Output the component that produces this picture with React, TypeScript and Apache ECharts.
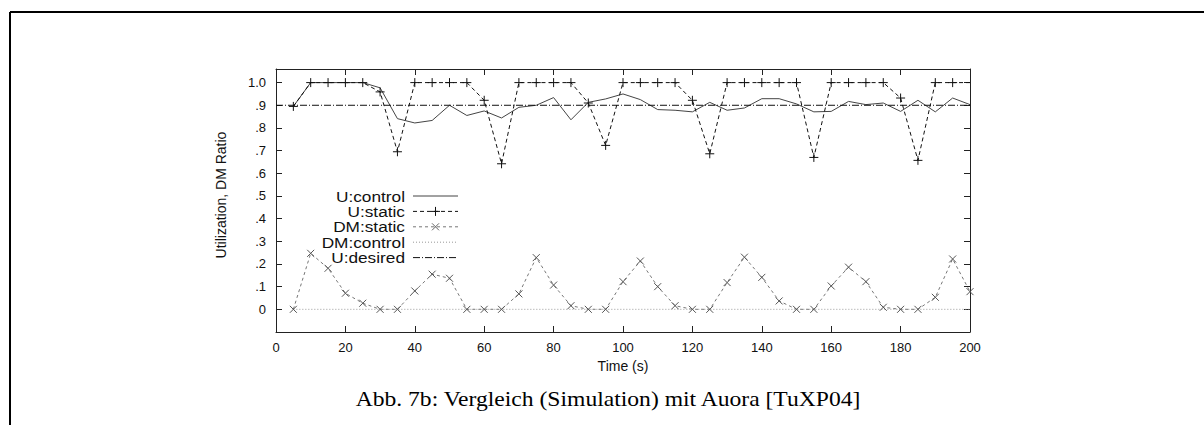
import React, { useEffect, useRef } from "react";
import * as echarts from "echarts";

// time stamps (s)
const times = [5, 10, 15, 20, 25, 30, 35, 40, 45, 50, 55, 60, 65, 70, 75, 80, 85, 90, 95, 100,
  105, 110, 115, 120, 125, 130, 135, 140, 145, 150, 155, 160, 165, 170, 175, 180, 185, 190, 195, 200];

const uControl = [0.895, 1.0, 1.0, 1.0, 1.0, 0.977, 0.841, 0.822, 0.833, 0.9, 0.855, 0.875, 0.844, 0.891,
  0.9, 0.934, 0.836, 0.913, 0.928, 0.95, 0.925, 0.881, 0.878, 0.871, 0.913, 0.878, 0.888, 0.929, 0.929,
  0.906, 0.871, 0.873, 0.917, 0.903, 0.91, 0.873, 0.922, 0.871, 0.932, 0.903];

const uStatic = [0.895, 1, 1, 1, 1, 0.959, 0.695, 1, 1, 1, 1, 0.922, 0.642, 1, 1, 1, 1, 0.91, 0.723, 1,
  1, 1, 1, 0.922, 0.686, 1, 1, 1, 1, 1, 0.67, 1, 1, 1, 1, 0.932, 0.657, 1, 1, 1];

const dmStatic = [0, 0.247, 0.181, 0.071, 0.027, 0, 0, 0.081, 0.155, 0.137, 0, 0, 0, 0.068, 0.228, 0.107,
  0.016, 0, 0, 0.122, 0.213, 0.1, 0.016, 0, 0, 0.118, 0.23, 0.141, 0.037, 0, 0, 0.103, 0.186, 0.122,
  0.009, 0, 0, 0.053, 0.222, 0.078];

const dmControl = [0, 0, 0, 0, 0, 0, 0, 0, 0, 0, 0, 0, 0, 0, 0, 0, 0, 0, 0, 0,
  0, 0, 0, 0, 0, 0, 0, 0, 0, 0, 0, 0, 0, 0, 0, 0, 0, 0, 0, 0];

const uDesiredLevel = 0.9;
const xRange = [0, 200];

const legendLabels = ["U:control", "U:static", "DM:static", "DM:control", "U:desired"];
const yLabel = "Utilization, DM Ratio";
const xLabel = "Time (s)";
const caption = "Abb. 7b: Vergleich (Simulation) mit Auora [TuXP04]";

const SANS = "Liberation Sans";
const SERIF = "Liberation Serif";

const PLUS = "path://M0,5L10,5M5,0L5,10";
const CROSS = "path://M0,0L10,10M10,0L0,10";

const seriesStyles = [
  { color: "#444", dash: "solid" as any, width: 1 },
  { color: "#111", dash: [4, 3], width: 1 },
  { color: "#777", dash: [3, 3], width: 1 },
  { color: "#999", dash: [1, 2], width: 1 },
  { color: "#111", dash: [7, 2, 1, 2], width: 1 },
];

function buildLegend() {
  const els: any[] = [];
  const x0 = 405;
  const lx1 = 413;
  const lx2 = 458;
  const mx = (lx1 + lx2) / 2;
  legendLabels.forEach((lab, i) => {
    const y = 196 + i * 15.4;
    const s = seriesStyles[i];
    els.push({
      type: "group", x: x0, y, scaleX: 1.15,
      children: [{
        type: "text",
        style: {
          text: lab, x: 0, y: 0, fill: "#111", fontSize: 15, fontFamily: SANS,
          textAlign: "right", textVerticalAlign: "middle", align: "right", verticalAlign: "middle",
        },
      }],
    });
    els.push({
      type: "line",
      shape: { x1: lx1, y1: y, x2: lx2, y2: y },
      style: { stroke: s.color, lineWidth: s.width, lineDash: s.dash === "solid" ? null : s.dash },
    });
    if (i === 1) {
      els.push({ type: "line", shape: { x1: mx - 4.5, y1: y, x2: mx + 4.5, y2: y }, style: { stroke: "#111", lineWidth: 1 } });
      els.push({ type: "line", shape: { x1: mx, y1: y - 4.5, x2: mx, y2: y + 4.5 }, style: { stroke: "#111", lineWidth: 1 } });
    }
    if (i === 2) {
      els.push({ type: "line", shape: { x1: mx - 3.5, y1: y - 3.5, x2: mx + 3.5, y2: y + 3.5 }, style: { stroke: "#666", lineWidth: 1 } });
      els.push({ type: "line", shape: { x1: mx + 3.5, y1: y - 3.5, x2: mx - 3.5, y2: y + 3.5 }, style: { stroke: "#666", lineWidth: 1 } });
    }
  });
  return els;
}

function yFormatter(v: number) {
  if (v < -0.001 || v > 1.001) return "";
  if (Math.abs(v) < 0.001) return "0";
  if (Math.abs(v - 1) < 0.001) return "1.0";
  return "." + Math.round(v * 10);
}

export default function App() {
  const ref = useRef<HTMLDivElement>(null);
  useEffect(() => {
    const chart = echarts.init(ref.current!, null, { renderer: "svg" });
    const axisLine = { show: true, onZero: false, lineStyle: { color: "#222", width: 1 } };
    const tick = { show: true, inside: true, length: 6, lineStyle: { color: "#222", width: 1 } };
    const option: any = {
      animation: false,
      backgroundColor: "#fff",
      grid: { left: 276, top: 69, width: 694, height: 263, containLabel: false },
      xAxis: [
        {
          type: "value", min: xRange[0], max: xRange[1], interval: 20, position: "bottom",
          axisLine, axisTick: tick, splitLine: { show: false },
          axisLabel: { fontSize: 13, color: "#111", fontFamily: SANS, margin: 9 },
          name: xLabel, nameLocation: "middle", nameGap: 19,
          nameTextStyle: { fontSize: 14, color: "#111", fontFamily: SANS },
        },
        {
          type: "value", min: xRange[0], max: xRange[1], interval: 20, position: "top",
          axisLine, axisTick: tick, splitLine: { show: false }, axisLabel: { show: false },
        },
      ],
      yAxis: [
        {
          type: "value", min: -0.1, max: 1.06, interval: 0.1, position: "left",
          axisLine, axisTick: tick, splitLine: { show: false },
          axisLabel: { fontSize: 13, color: "#111", fontFamily: SANS, margin: 10, formatter: yFormatter },
        },
        {
          type: "value", min: -0.1, max: 1.06, interval: 0.1, position: "right",
          axisLine, axisTick: tick, splitLine: { show: false }, axisLabel: { show: false },
        },
      ],
      series: [
        {
          name: legendLabels[0], type: "line", symbol: "none",
          data: times.map((t, i) => [t, uControl[i]]),
          lineStyle: { color: seriesStyles[0].color, width: 1, type: "solid" },
        },
        {
          name: legendLabels[1], type: "line", symbol: PLUS, symbolSize: 9,
          data: times.map((t, i) => (t === xRange[1] ? { value: [t, uStatic[i]], symbol: "none" } : [t, uStatic[i]])),
          lineStyle: { color: seriesStyles[1].color, width: 1, type: seriesStyles[1].dash },
          itemStyle: { color: "transparent", borderColor: "#111", borderWidth: 1 },
        },
        {
          name: legendLabels[2], type: "line", symbol: CROSS, symbolSize: 7,
          data: times.map((t, i) => [t, dmStatic[i]]),
          lineStyle: { color: seriesStyles[2].color, width: 1, type: seriesStyles[2].dash },
          itemStyle: { color: "transparent", borderColor: "#555", borderWidth: 1 },
        },
        {
          name: legendLabels[3], type: "line", symbol: "none",
          data: times.map((t, i) => [t, dmControl[i]]),
          lineStyle: { color: seriesStyles[3].color, width: 1, type: seriesStyles[3].dash },
        },
        {
          name: legendLabels[4], type: "line", symbol: "none",
          data: [[xRange[0], uDesiredLevel], [xRange[1], uDesiredLevel]],
          lineStyle: { color: seriesStyles[4].color, width: 1, type: seriesStyles[4].dash },
        },
      ],
      graphic: [
        { type: "line", shape: { x1: 10, y1: 12, x2: 1204, y2: 12 }, style: { stroke: "#000", lineWidth: 2 } },
        { type: "line", shape: { x1: 10, y1: 12, x2: 10, y2: 425 }, style: { stroke: "#000", lineWidth: 2 } },
        {
          type: "text", x: 221, y: 195, rotation: Math.PI / 2,
          style: {
            text: yLabel, x: 0, y: 0, fill: "#111", fontSize: 14, fontFamily: SANS,
            textAlign: "center", textVerticalAlign: "middle", align: "center", verticalAlign: "middle",
          },
        },
        {
          type: "group", x: 608, y: 400, scaleX: 1.18,
          children: [
            {
              type: "text",
              style: {
                text: caption, x: 0, y: 0, fill: "#000", fontSize: 20, fontFamily: SERIF,
                textAlign: "center", textVerticalAlign: "middle", align: "center", verticalAlign: "middle",
              },
            },
          ],
        },
        ...buildLegend(),
      ],
    };
    chart.setOption(option);
    return () => chart.dispose();
  }, []);
  return (
    <div
      ref={ref}
      style={{ position: "absolute", left: 0, top: 0, width: 1204, height: 425, background: "#fff" }}
    />
  );
}
